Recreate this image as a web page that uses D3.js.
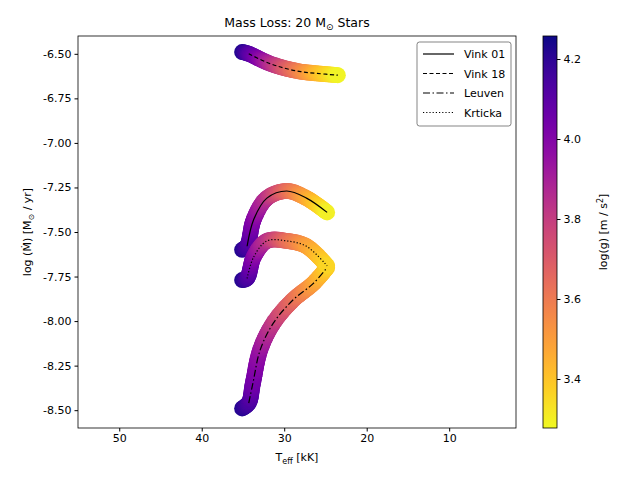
<!DOCTYPE html>
<html lang="en">
<head>
<meta charset="UTF-8">
<title>Mass Loss</title>
<script src="https://d3js.org/d3.v7.min.js"></script>
<style>
    body { margin: 0; background: #fff; }
    text { font-family: "DejaVu Sans", sans-serif; font-size: 11px; fill: #000; }
    .axis path, .axis line { stroke: #000; }
</style>
</head>
<body>
<svg width="640" height="480"></svg>
<script>
    // track data: Teff [kK], log Mdot, log g
    const vink01Teff = [35.1, 34.5, 33.7, 32.1, 29.7, 27.3, 24.8];
    const vink01Mdot = [-7.60, -7.58, -7.43, -7.31, -7.27, -7.31, -7.39];
    const vink01Logg = [4.22, 4.15, 4.00, 3.85, 3.65, 3.48, 3.30];

    const vink18Teff = [35.1, 34.3, 32.0, 30.0, 28.0, 26.0, 23.5];
    const vink18Mdot = [-6.49, -6.50, -6.55, -6.58, -6.60, -6.61, -6.62];
    const vink18Logg = [4.22, 4.12, 3.90, 3.72, 3.57, 3.43, 3.29];

    const leuvenTeff = [35.1, 34.3, 33.8, 32.9, 31.3, 28.9, 26.5, 24.8];
    const leuvenMdot = [-8.49, -8.46, -8.35, -8.16, -8.01, -7.88, -7.79, -7.70];
    const leuvenLogg = [4.22, 4.15, 4.05, 3.95, 3.82, 3.65, 3.50, 3.38];

    const krtickaTeff = [35.1, 34.5, 33.7, 32.1, 29.7, 27.3, 24.8];
    const krtickaMdot = [-7.77, -7.76, -7.64, -7.55, -7.55, -7.58, -7.69];
    const krtickaLogg = [4.22, 4.15, 4.00, 3.85, 3.65, 3.50, 3.36];

    const xTicks = [50, 40, 30, 20, 10];
    const yTicks = [-6.5, -6.75, -7.0, -7.25, -7.5, -7.75, -8.0, -8.25, -8.5];
    const cTicks = [3.4, 3.6, 3.8, 4.0, 4.2];

    const tracks = [
        {name: "Vink 01", teff: vink01Teff, mdot: vink01Mdot, logg: vink01Logg, dash: null},
        {name: "Vink 18", teff: vink18Teff, mdot: vink18Mdot, logg: vink18Logg, dash: "4,2.5"},
        {name: "Leuven", teff: leuvenTeff, mdot: leuvenMdot, logg: leuvenLogg, dash: "7,2.5,1.5,2.5"},
        {name: "Krticka", teff: krtickaTeff, mdot: krtickaMdot, logg: krtickaLogg, dash: "1.2,2"}
    ];

    const svg = d3.select("svg");
    const L = 78, R = 516, T = 36, B = 428;

    const x = d3.scaleLinear().domain([55, 1.9]).range([L, R]);
    const y = d3.scaleLinear().domain([-6.40, -8.60]).range([T, B]);
    const cMin = 3.2775, cMax = 4.2575;
    const color = v => d3.interpolatePlasma((cMax - v) / (cMax - cMin));

    const line = d3.line().x(d => x(d[0])).y(d => y(d[1])).curve(d3.curveCatmullRom);

    const plot = svg.append("g");
    // thick colored tracks: dense markers placed along the smoothed track
    tracks.forEach(function (t) {
        const pts = t.teff.map((v, i) => [v, t.mdot[i]]);
        const tmp = plot.append("path").attr("d", line(pts)).attr("fill", "none");
        const node = tmp.node();
        const len = node.getTotalLength();
        // cumulative length at each data point for colouring
        const segLen = [0];
        for (let i = 1; i < pts.length; i++) {
            segLen.push(segLen[i - 1] + Math.hypot(x(pts[i][0]) - x(pts[i - 1][0]), y(pts[i][1]) - y(pts[i - 1][1])));
        }
        const gScale = d3.scaleLinear().domain(segLen.map(s => s / segLen[segLen.length - 1] * len)).range(t.logg);
        const n = Math.ceil(len / 1.5);
        const samples = d3.range(n + 1).map(k => k * len / n);
        plot.selectAll(null).data(samples).enter().append("circle")
            .attr("cx", s => node.getPointAtLength(s).x)
            .attr("cy", s => node.getPointAtLength(s).y)
            .attr("r", 8)
            .attr("fill", s => color(gScale(s)));
        tmp.remove();
    });
    tracks.forEach(function (t) {
        const pts = t.teff.map((v, i) => [v, t.mdot[i]]).slice(1);
        plot.append("path").attr("d", line(pts)).attr("fill", "none")
            .attr("stroke", "#000").attr("stroke-width", 1.2)
            .attr("stroke-dasharray", t.dash);
    });

    // axes
    svg.append("g").attr("class", "axis").attr("transform", `translate(0,${B})`)
        .call(d3.axisBottom(x).tickValues(xTicks).tickSize(3.5).tickPadding(3).tickFormat(d3.format("d")))
        .call(g => g.select(".domain").remove());
    svg.append("g").attr("class", "axis").attr("transform", `translate(${L},0)`)
        .call(d3.axisLeft(y).tickValues(yTicks).tickSize(3.5).tickPadding(3).tickFormat(d => d3.format(".2f")(d).replace("−", "-")))
        .call(g => g.select(".domain").remove());
    svg.selectAll(".axis text").style("font-size", "11px").style("font-family", "DejaVu Sans, sans-serif");
    svg.append("rect").attr("x", L).attr("y", T).attr("width", R - L).attr("height", B - T)
        .attr("fill", "none").attr("stroke", "#000").attr("stroke-width", 0.8);

    // titles
    const title = svg.append("text").attr("x", (L + R) / 2).attr("y", 27).attr("text-anchor", "middle").style("font-size", "12.5px");
    title.append("tspan").text("Mass Loss: 20 M");
    title.append("tspan").attr("dy", 3).style("font-size", "9px").text("⊙");
    title.append("tspan").attr("dy", -3).text(" Stars");

    const xl = svg.append("text").attr("x", (L + R) / 2).attr("y", 461).attr("text-anchor", "middle");
    xl.append("tspan").text("T");
    xl.append("tspan").attr("dy", 3).style("font-size", "8px").text("eff");
    xl.append("tspan").attr("dy", -3).text(" [kK]");

    const yl = svg.append("text").attr("transform", `translate(31,${(T + B) / 2}) rotate(-90)`).attr("text-anchor", "middle");
    yl.append("tspan").text("log (M\u0307) [M");
    yl.append("tspan").attr("dy", 3).style("font-size", "8px").text("⊙");
    yl.append("tspan").attr("dy", -3).text(" / yr]");

    // legend
    const lg = svg.append("g").attr("transform", "translate(417,42)");
    lg.append("rect").attr("width", 94).attr("height", 84).attr("rx", 2.5)
        .attr("fill", "#fff").attr("stroke", "#ccc").attr("stroke", "#333").attr("stroke-width", 0.6);
    tracks.forEach(function (t, i) {
        const yy = 12 + i * 19.5;
        lg.append("line").attr("x1", 6).attr("x2", 37).attr("y1", yy).attr("y2", yy)
            .attr("stroke", "#000").attr("stroke-width", 1.2).attr("stroke-dasharray", t.dash);
        lg.append("text").attr("x", 47).attr("y", yy + 4).text(t.name);
    });

    // colorbar
    const cbX = 543, cbW = 14;
    const cy = d3.scaleLinear().domain([cMin, cMax]).range([B, T]);
    const defs = svg.append("defs");
    const grad = defs.append("linearGradient").attr("id", "cb").attr("x1", 0).attr("x2", 0).attr("y1", 1).attr("y2", 0);
    d3.range(0, 1.0001, 0.05).forEach(function (o) {
        grad.append("stop").attr("offset", o).attr("stop-color", d3.interpolatePlasma(1 - o));
    });
    svg.append("rect").attr("x", cbX).attr("y", T).attr("width", cbW).attr("height", B - T)
        .attr("fill", "url(#cb)").attr("stroke", "#000").attr("stroke-width", 0.8);
    svg.append("g").attr("class", "axis").attr("transform", `translate(${cbX + cbW},0)`)
        .call(d3.axisRight(cy).tickValues(cTicks).tickSize(3.5).tickPadding(3).tickFormat(d3.format(".1f")))
        .call(g => g.select(".domain").remove());
    const cl = svg.append("text").attr("transform", `translate(607,${(T + B) / 2}) rotate(-90)`).attr("text-anchor", "middle");
    cl.append("tspan").text("log(g) [m / s");
    cl.append("tspan").attr("dy", -4).style("font-size", "8px").text("2");
    cl.append("tspan").attr("dy", 4).text("]");
</script>
</body>
</html>
